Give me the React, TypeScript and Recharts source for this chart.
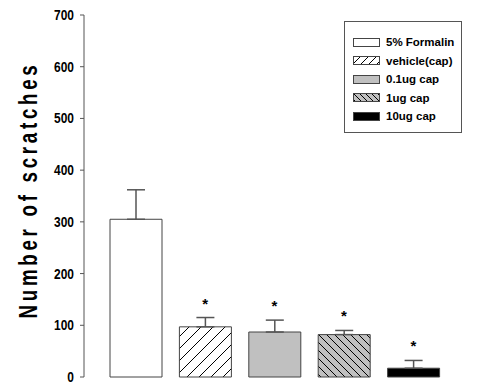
import { ComposedChart, Bar, Cell, ErrorBar, Scatter, XAxis, YAxis } from 'recharts'

const groups = ['5% Formalin', 'vehicle(cap)', '0.1ug cap', '1ug cap', '10ug cap']
const means = [305, 97, 87, 82, 17]
const sems = [57, 18, 23, 8, 15]
const significant = [false, true, true, true, true]
const yTicks = [0, 100, 200, 300, 400, 500, 600, 700]

const fills = ['#ffffff', 'url(#hatchFwd)', '#c0c0c0', 'url(#hatchBack)', '#000000']
const legendFills = ['#ffffff', 'url(#hatchFwdSm)', '#c0c0c0', 'url(#hatchBackSm)', '#000000']

const data = groups.map((name, i) => ({
  name,
  mean: means[i],
  err: [0, sems[i]],
  star: significant[i] ? means[i] + sems[i] : null,
}))

const font = 'Arial, "Liberation Sans", sans-serif'

const Star = (props: any) => {
  const { cx, cy } = props
  if (cy == null || isNaN(cy)) return null
  return (
    <text x={cx} y={cy - 9} textAnchor="middle" fontSize={15} fontWeight="bold" fontFamily={font} fill="#000">
      *
    </text>
  )
}

const YTick = (props: any) => {
  const { x, y, payload } = props
  return (
    <text
      transform={`translate(${x - 4},${y + 5}) scale(0.92,1.12)`}
      textAnchor="end"
      fontSize={13}
      fontWeight="bold"
      fontFamily={font}
      fill="#000"
    >
      {payload.value}
    </text>
  )
}

const LegendBox = () => (
  <div
    style={{
      position: 'absolute',
      left: 344,
      top: 21,
      border: '1px solid #555',
      width: 118,
      height: 112,
      boxSizing: 'border-box',
      padding: '11px 0 0 8px',
      background: '#fff',
      fontFamily: font,
    }}
  >
    {groups.map((g, i) => (
      <div key={g} style={{ display: 'flex', alignItems: 'center', height: 18.5 }}>
        <svg width={27} height={9} style={{ marginRight: 6 }}>
          <rect x={0.5} y={0.5} width={26} height={8} fill={legendFills[i]} stroke="#444" strokeWidth={1} />
        </svg>
        <span style={{ fontSize: 11.5, fontWeight: 'bold', color: '#000' }}>{g}</span>
      </div>
    ))}
  </div>
)

export default function App() {
  return (
    <div style={{ position: 'absolute', left: 0, top: 0, width: 497, height: 383, background: '#fff' }}>
      <ComposedChart width={497} height={383} data={data} margin={{ top: 15, right: 1, bottom: 6, left: 0 }}>
        <defs>
          <pattern id="hatchFwd" patternUnits="userSpaceOnUse" width={12} height={12}>
            <rect width={12} height={12} fill="#fff" />
            <path d="M-3,3 L3,-3 M0,12 L12,0 M9,15 L15,9" stroke="#000" strokeWidth={1} />
          </pattern>
          <pattern id="hatchBack" patternUnits="userSpaceOnUse" width={8} height={8}>
            <rect width={8} height={8} fill="#c0c0c0" />
            <path d="M-2,6 L2,10 M0,0 L8,8 M6,-2 L10,2" stroke="#000" strokeWidth={1} />
          </pattern>
          <pattern id="hatchFwdSm" patternUnits="userSpaceOnUse" width={8} height={8}>
            <rect width={8} height={8} fill="#fff" />
            <path d="M-2,2 L2,-2 M0,8 L8,0 M6,10 L10,6" stroke="#000" strokeWidth={1} />
          </pattern>
          <pattern id="hatchBackSm" patternUnits="userSpaceOnUse" width={6} height={6}>
            <rect width={6} height={6} fill="#c0c0c0" />
            <path d="M-2,4 L2,8 M0,0 L6,6 M4,-2 L8,2" stroke="#000" strokeWidth={1} />
          </pattern>
        </defs>
        <XAxis
          dataKey="name"
          tick={false}
          tickLine={false}
          height={0}
          padding={{ left: 17, right: 48 }}
          axisLine={{ stroke: '#000', strokeWidth: 2 }}
        />
        <YAxis
          width={84}
          domain={[0, 700]}
          ticks={yTicks}
          interval={0}
          tickSize={4}
          tick={<YTick />}
          tickLine={{ stroke: '#555' }}
          axisLine={{ stroke: '#555' }}
          label={{
            content: () => (
              <text
                transform="translate(37,190) rotate(-90) scale(0.85,1.2)"
                textAnchor="middle"
                fontSize={22}
                fontWeight="bold"
                letterSpacing={4.4}
                fontFamily={font}
                fill="#000"
              >
                Number of scratches
              </text>
            ),
          }}
        />
        <Bar dataKey="mean" barSize={52} stroke="#444" strokeWidth={1} isAnimationActive={false} legendType="none">
          {data.map((d, i) => (
            <Cell key={d.name} fill={fills[i]} />
          ))}
          <ErrorBar dataKey="err" width={9} stroke="#555" strokeWidth={1.5} direction="y" />
        </Bar>
        <Scatter dataKey="star" shape={<Star />} isAnimationActive={false} legendType="none" />
      </ComposedChart>
      <LegendBox />
    </div>
  )
}
